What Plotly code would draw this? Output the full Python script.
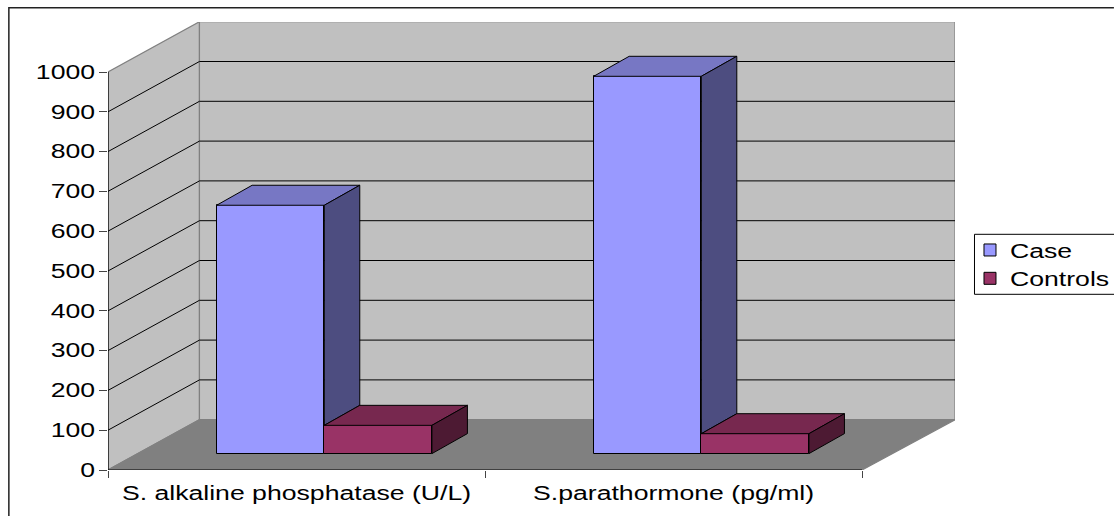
import plotly.graph_objects as go

categories = ["S. alkaline phosphatase (U/L)", "S.parathormone (pg/ml)"]
case_values = [624, 948]
control_values = [71, 50]
y_ticks = list(range(0, 1001, 100))

FONT = "Liberation Sans"
FSIZE = 19.5
TEXT_STRETCH = 1.365
W, H = 1114, 516
PL, PR, PT, PB = 107.5, 955.0, 21.7, 469.7
PX_PER_CAT = 377.25
PX_PER_VAL = 0.398

XMIN = -0.5
XMAX = XMIN + (PR - PL) / PX_PER_CAT
YMAX = (PB - PT) / PX_PER_VAL
X_FRONT_END = 1.5
DX = 91.5 / PX_PER_CAT      # floor depth
DY = 50.3 / PX_PER_VAL
BAR_W = 107.7 / PX_PER_CAT
BAR_SHIFT = 27.8 / PX_PER_CAT
BAR_BASE = 16.4 / PX_PER_VAL
BX = 35.5 / PX_PER_CAT      # bar depth
BY = 20.0 / PX_PER_VAL


def px(v):
    return (v - PL) / (PR - PL)


def py(v):
    return (PB - v) / (PB - PT)


def poly(points):
    return "M" + " L".join(f"{x},{y}" for x, y in points) + " Z"


def shape_poly(points, fill, line=None):
    return dict(type="path", path=poly(points), xref="x", yref="y", layer="below",
                fillcolor=fill, line=dict(color=line or fill, width=1.2))


shapes = [
    shape_poly([(XMIN, 0), (XMIN + DX, DY), (XMIN + DX, 1000 + DY), (XMIN, 1000)], "#c0c0c0", "#808080"),
    shape_poly([(XMIN + DX, DY), (XMAX, DY), (XMAX, 1000 + DY), (XMIN + DX, 1000 + DY)], "#c0c0c0", "#808080"),
    shape_poly([(XMIN, 0), (X_FRONT_END, 0), (XMAX, DY), (XMIN + DX, DY)], "#808080", "#808080"),
]
for v in y_ticks[1:-1]:
    shapes.append(dict(type="path", xref="x", yref="y", layer="below",
                       path=f"M{XMIN},{v} L{XMIN + DX},{v + DY} L{XMAX},{v + DY}",
                       line=dict(color="#000000", width=1)))
# chart-area border (left and top only: the rest is cut off by the picture)
shapes.append(dict(type="path", xref="paper", yref="paper", layer="below",
                   path=f"M{px(8.3)},{py(H)} L{px(8.3)},{py(7.5)} L{px(W)},{py(7.5)}",
                   line=dict(color="#222222", width=1.5)))
# legend box, running off the right edge of the picture
shapes.append(dict(type="rect", xref="paper", yref="paper", layer="below",
                   x0=px(974.5), x1=px(W + 10), y0=py(294), y1=py(234),
                   fillcolor="#ffffff", line=dict(color="#000000", width=1)))

fig = go.Figure()

bar_line = dict(color="#000000", width=1)
xl_case = [i + BAR_SHIFT - BAR_W for i in range(2)]
xl_ctrl = [i + BAR_SHIFT for i in range(2)]

fig.add_trace(go.Bar(name="Case", x=[x + BAR_W / 2 for x in xl_case], y=case_values,
                     base=[BAR_BASE] * 2, width=BAR_W, marker=dict(color="#9999ff", line=bar_line),
                     hoverinfo="skip"))
fig.add_trace(go.Bar(name="Controls", x=[x + BAR_W / 2 for x in xl_ctrl], y=control_values,
                     base=[BAR_BASE] * 2, width=BAR_W, marker=dict(color="#993366", line=bar_line),
                     hoverinfo="skip"))


def face(points, color):
    xs, ys = zip(*(points + [points[0]]))
    fig.add_trace(go.Scatter(x=xs, y=ys, mode="lines", fill="toself", fillcolor=color,
                             line=dict(color="#000000", width=1), showlegend=False,
                             hoverinfo="skip", cliponaxis=False))


for i in range(2):
    xl, xr = xl_case[i], xl_case[i] + BAR_W
    top = BAR_BASE + case_values[i]
    low = BAR_BASE + control_values[i]
    face([(xl, top), (xr, top), (xr + BX, top + BY), (xl + BX, top + BY)], "#7777c4")
    face([(xr, top), (xr + BX, top + BY), (xr + BX, low + BY), (xr, low)], "#4d4d80")
    xl, xr = xl_ctrl[i], xl_ctrl[i] + BAR_W
    top = low
    face([(xl, top), (xr, top), (xr + BX, top + BY), (xl + BX, top + BY)], "#77284f")
    face([(xr, top), (xr + BX, top + BY), (xr + BX, BAR_BASE + BY), (xr, BAR_BASE)], "#4d1a33")

fig.add_trace(go.Scatter(x=[XMIN, XMIN, X_FRONT_END], y=[1000, 0, 0], mode="lines",
                         line=dict(color="#000000", width=1.2), showlegend=False,
                         hoverinfo="skip", cliponaxis=False))

fig.update_layout(
    width=W, height=H, autosize=False,
    margin=dict(l=PL, r=W - PR, t=PT, b=H - PB, pad=0, autoexpand=False),
    paper_bgcolor="#ffffff", plot_bgcolor="rgba(0,0,0,0)",
    barmode="overlay", bargap=0, shapes=shapes,
    font=dict(family=FONT, size=FSIZE, color="#000000"),
    showlegend=True,
    legend=dict(x=px(970), xanchor="left", y=py(230.5), yanchor="top",
                borderwidth=0, bgcolor="rgba(0,0,0,0)",
                font=dict(family=FONT, size=FSIZE, color="#000000"),
                traceorder="normal"),
    xaxis=dict(range=[XMIN, XMAX], showgrid=False, zeroline=False, showline=False,
               tickmode="array", tickvals=[0, 1], ticktext=categories, ticks="",
               ticklabelstandoff=9, automargin=False,
               minor=dict(tickmode="array", tickvals=[-0.5, 0.5, 1.5], ticks="outside",
                          ticklen=7, tickwidth=1, tickcolor="#444444", showgrid=False),
               tickfont=dict(family=FONT, size=FSIZE, color="#000000")),
    yaxis=dict(range=[0, YMAX], showgrid=False, zeroline=False, showline=False,
               tickmode="array", tickvals=y_ticks, ticktext=[str(v) for v in y_ticks],
               ticks="outside", ticklen=8, tickwidth=1, tickcolor="#444444", automargin=False,
               tickfont=dict(family=FONT, size=FSIZE, color="#000000")),
)

post = (
    "document.body.style.margin='0';document.body.style.overflow='hidden';"
    "document.querySelectorAll('.xtick text,.ytick text,.legendtext').forEach(function(t){"
    f"t.setAttribute('textLength',t.getComputedTextLength()*{TEXT_STRETCH});"
    "t.setAttribute('lengthAdjust','spacingAndGlyphs');});"
    "document.querySelectorAll('.legend, .legend *').forEach(function(e){"
    "e.removeAttribute('clip-path');e.style.clipPath='none';});"
)
fig.write_html("out.html", config=dict(displayModeBar=False), post_script=post)
